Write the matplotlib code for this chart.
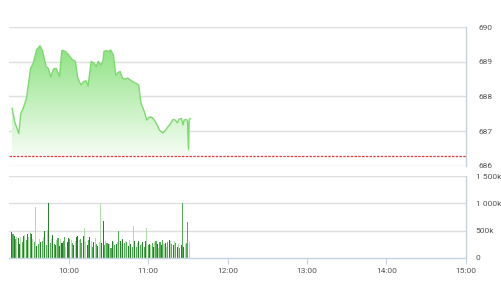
import numpy as np
import matplotlib
matplotlib.use("Agg")
import matplotlib.pyplot as plt

# time in minutes after 9:00
price_t = [17.3, 19.3, 22.4, 23.9, 25.7, 28.2, 31.3, 33.3, 35.8, 38.4, 40.4, 43.0,
           44.7, 46.5, 48.6, 50.6, 53.1, 54.9, 57.5, 60.0, 62.5, 65.1, 66.9, 69.4,
           71.4, 73.2, 74.7, 77.0, 79.1, 80.8, 82.4, 84.2, 85.9, 86.7, 88.7, 90.5,
           91.8, 93.8, 95.6, 97.4, 98.9, 100.7, 102.5, 104.5, 106.5, 108.3, 110.9,
           112.9, 114.7, 117.2, 119.0, 121.0, 122.8, 124.8, 126.9, 128.6, 131.2,
           133.2, 135.0, 137.0, 138.8, 140.6, 142.1, 143.4, 145.2, 146.4, 147.2,
           149.0, 149.8, 150.5, 151.0, 151.8]
price_v = [687.66, 687.27, 686.93, 687.51, 687.66, 687.95, 688.81, 688.96, 689.34,
           689.46, 689.30, 688.86, 688.81, 688.57, 688.79, 688.81, 688.57, 689.33,
           689.30, 689.20, 689.07, 689.01, 688.53, 688.33, 688.43, 688.45, 688.30,
           689.01, 688.96, 688.86, 689.01, 688.91, 689.01, 689.30, 689.32, 689.30,
           689.34, 689.20, 688.62, 688.69, 688.72, 688.53, 688.50, 688.53, 688.48,
           688.43, 688.38, 688.33, 687.80, 687.56, 687.32, 687.41, 687.40, 687.32,
           687.18, 687.03, 686.95, 687.03, 687.13, 687.22, 687.34, 687.32, 687.24,
           687.35, 687.37, 687.18, 687.32, 687.34, 687.27, 686.48, 687.34, 687.37]
ref_price = 686.28

vol_t = list(range(17, 152))
vol_k = [470, 430, 400, 350, 390, 360, 250, 380, 300, 400, 420, 330, 440, 390, 450,
         440, 350, 300, 930, 220, 260, 350, 300, 310, 380, 490, 240, 520, 1000, 280,
         340, 420, 250, 240, 330, 360, 220, 340, 280, 320, 390, 200, 300, 360, 340,
         330, 270, 230, 310, 380, 400, 330, 350, 280, 400, 550, 300, 240, 330, 390,
         310, 200, 290, 360, 250, 220, 300, 980, 280, 670, 230, 310, 270, 260, 250,
         180, 320, 290, 240, 260, 300, 490, 310, 270, 340, 280, 320, 300, 220, 330,
         250, 200, 590, 310, 200, 270, 320, 230, 250, 300, 210, 320, 550, 230, 260,
         240, 270, 200, 290, 310, 250, 190, 300, 240, 330, 260, 280, 200, 300, 330,
         310, 250, 240, 320, 280, 200, 250, 180, 230, 1000, 200, 260, 280, 650, 290]
vol_shade = ("dmdmlddlmd" "lmdlmdlmld" "mldmldmldm" "ldmdlmdldm" "mlddmlmdld"
             "dlmmdlldmd" "lmdlmdlldd" "mlmdlmdlmd" "lmdldmlmdl" "dmldmldmld"
             "mdlmdlmdlm" "dlmdmldlmd" "lmdlmdlmdm" "dlmml")

x_ticks = [60, 120, 180, 240, 300, 360]
x_labels = ["10:00", "11:00", "12:00", "13:00", "14:00", "15:00"]
p_ticks = [686, 687, 688, 689, 690]
v_ticks = [0, 500, 1000, 1500]
v_labels = ["0", "500k", "1 000k", "1 500k"]

plt.rcParams["font.family"] = ["Roboto", "DejaVu Sans"]
grid_c = "#dedede"
axis_c = "#c5d3e0"
text_c = "#555555"

fig = plt.figure(figsize=(5.01, 3.0), dpi=100)
ax1 = fig.add_axes([0.018, 0.4467, 0.912, 0.4633])
ax2 = fig.add_axes([0.018, 0.14, 0.912, 0.2733])

# price panel
ax1.set_xlim(15, 360)
ax1.set_ylim(686, 690)
poly = ax1.fill_between(price_t, price_v, 686.3, color="none", lw=0)
grad = np.ones((256, 1, 4))
top = np.array(matplotlib.colors.to_rgb("#8ee283"))
bot = np.array(matplotlib.colors.to_rgb("#f6fdf4"))
f = np.linspace(0, 1, 256)[:, None]
grad[:, 0, :3] = top * (1 - f) + bot * f
im = ax1.imshow(grad, extent=[15, 360, 686.3, max(price_v)], aspect="auto",
                origin="upper", zorder=1)
im.set_clip_path(poly.get_paths()[0], transform=ax1.transData)
ax1.plot(price_t, price_v, color="#7fd872", lw=1.0, zorder=3)
ax1.axhline(ref_price, color="#e23a3a", lw=0.9, ls=(0, (2, 1)), zorder=4)
for v in p_ticks:
    ax1.axhline(v, color=grid_c, lw=1.0, zorder=0)
ax1.set_yticks(p_ticks)
ax1.yaxis.tick_right()
ax1.tick_params(axis="y", length=0, pad=9, labelsize=6, labelcolor=text_c)
ax1.set_xticks([])
for s in ["top", "left", "bottom"]:
    ax1.spines[s].set_visible(False)
ax1.spines["right"].set_color(axis_c)
ax1.spines["right"].set_linewidth(1.0)

# volume panel
shade = {"d": "#2a7f2f", "m": "#55ad58", "l": "#afdca9"}
ax2.bar(vol_t, vol_k, width=0.8, color=[shade[c] for c in vol_shade], lw=0, zorder=2)
ax2.set_xlim(15, 360)
ax2.set_ylim(0, 1500)
for v in v_ticks[1:]:
    ax2.axhline(v, color=grid_c, lw=1.0, zorder=0)
ax2.set_yticks(v_ticks)
ax2.set_yticklabels(v_labels)
ax2.yaxis.tick_right()
ax2.tick_params(axis="y", length=0, pad=7, labelsize=6, labelcolor=text_c)
ax2.set_xticks(x_ticks)
ax2.set_xticklabels(x_labels)
ax2.tick_params(axis="x", length=4, width=0.8, color=axis_c, pad=3,
                labelsize=6, labelcolor=text_c)
for s in ["top", "left"]:
    ax2.spines[s].set_visible(False)
for s in ["right", "bottom"]:
    ax2.spines[s].set_color(axis_c)
    ax2.spines[s].set_linewidth(1.0)

fig.savefig("out.png", dpi=100)
